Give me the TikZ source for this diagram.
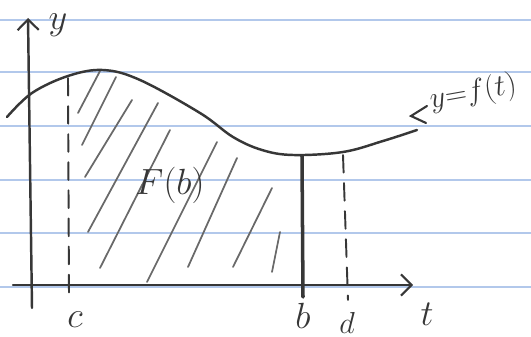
\documentclass[tikz,border=0pt]{standalone}
\usepackage{tikz}
\usetikzlibrary{arrows.meta}
\definecolor{ruling}{RGB}{178,200,235}
\definecolor{pencil}{RGB}{55,55,55}
\definecolor{hatchgray}{RGB}{105,105,105}

\begin{document}
\begin{tikzpicture}[x=0.02cm,y=-0.02cm,line cap=round,
  hand/.style={pencil,line width=1.4pt},
  barb/.style={-{Straight Barb[length=6pt,width=12pt,line width=1.2pt]}},
  guide/.style={pencil,line width=1.1pt,dash pattern=on 10pt off 6pt},
  lbl/.style={pencil,font=\fontsize{21}{24}\selectfont}]
  \useasboundingbox (0,0) rectangle (531,337);
  % ruled paper
  \foreach \y in {20,72,126,180,233,287}{
    \draw[ruling,line width=0.9pt] (0,\y)--(531,\y);
  }
  % hatching under the curve
  \foreach \xa/\ya/\xb/\yb in {78/113/100/71, 82/145/116/77, 85/177/132/100,
      88/232/158/103, 100/268/170/130, 147/282/217/142, 188/267/237/158,
      233/267/272/188, 272/272/280/232}{
    \draw[hatchgray,line width=1pt] (\xa,\ya)--(\xb,\yb);
  }
  % axes
  \coordinate (xs) at (13,285);
  \coordinate (xe) at (413,285);
  \coordinate (ys) at (32,308);
  \coordinate (ye) at (28,18);
  \draw[hand,barb] (xs)--(xe);
  \draw[hand,barb] (ys)--(ye);
  % the curve
  \draw[hand] plot[smooth,tension=0.6] coordinates {(7,117) (32,93) (68,76)
      (103,70) (140,80) (200,113) (233,137) (262,150) (293,155) (343,152)
      (383,141) (417,130)};
  \coordinate (cend) at (417,130);
  % c, b and d
  \coordinate (ctop) at (68,78);   \coordinate (cbot) at (69,297);
  \coordinate (btop) at (302,156); \coordinate (bbot) at (303,297);
  \coordinate (dtop) at (343,155); \coordinate (dbot) at (348,300);
  \draw[guide] (ctop)--(cbot);
  \draw[pencil,line width=2pt] (btop)--(bbot);
  \draw[guide] (dtop)--(dbot);
  % labels
  \node[lbl] (ylab) at (58,25) {$y$};
  \node[lbl] (tlab) at (427,314) {$t$};
  \node[lbl] (clab) at (75,320) {$c$};
  \node[lbl] (blab) at (303,316) {$b$};
  \node[lbl,font=\fontsize{19}{22}\selectfont] (dlab) at (347,323) {$d$};
  \node[lbl,font=\fontsize{22}{26}\selectfont] (area) at (170,185) {$F(b)$};
  \node[pencil,font=\fontsize{16}{19}\selectfont,anchor=west,rotate=10,inner sep=1pt]
      (fname) at (428,101) {$y{=}f(t)$};
  \draw[pencil,line width=1.2pt] (427,106)--(411,116)--(426,123);
\end{tikzpicture}
\end{document}
